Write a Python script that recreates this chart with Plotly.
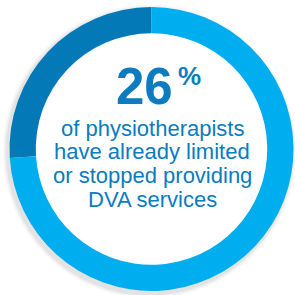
import plotly.graph_objects as go

labels = ["Limited or stopped", "Other"]
values = [26, 74]
colors = ["#0479b8", "#00aeef"]
headline = "26"
headline_unit = "%"
caption_lines = ["of physiotherapists", "have already limited", "or stopped providing", "DVA services"]

W = H = 295
cx, cy, r = 151.5, 149, 142
hole = 0.815

def px(x):
    return x / W

def py(y):
    return 1 - y / H

fig = go.Figure()
fig.add_trace(go.Pie(
    labels=labels, values=values, sort=False, direction="clockwise",
    rotation=-93.6, hole=hole, textinfo="none", hoverinfo="label+percent",
    marker=dict(colors=colors, line=dict(width=0)),
    domain=dict(x=[px(cx - r), min(1, px(cx + r))], y=[py(cy + r), py(cy - r)]),
    showlegend=False,
))

text_color = "#0b7cc0"
font = "Liberation Sans, Arial, sans-serif"
ann = [
    dict(text="<b>" + headline + "</b>", x=px(144), y=py(86), font=dict(size=51, color=text_color, family=font)),
    dict(text="<b>" + headline_unit + "</b>", x=px(190), y=py(76), font=dict(size=26, color=text_color, family=font)),
]
for i, line in enumerate(caption_lines):
    ann.append(dict(text=line, x=px(152), y=py(128 + 23.7 * i), font=dict(size=22, color=text_color, family=font)))
for a in ann:
    a.update(xref="paper", yref="paper", showarrow=False, xanchor="center", yanchor="middle")

shapes = []
for grow, alpha in [(5, 0.025), (3.5, 0.035), (2, 0.05)]:
    rr = r + grow
    ox, oy = cx - 2, cy + 2.5
    shapes.append(dict(type="circle", xref="paper", yref="paper", layer="below",
                       x0=px(ox - rr), x1=px(ox + rr), y0=py(oy + rr), y1=py(oy - rr),
                       fillcolor=f"rgba(0,0,0,{alpha})", line=dict(width=0)))
ri = r * hole + 3
shapes.append(dict(type="circle", xref="paper", yref="paper", layer="below",
                   x0=px(cx - ri), x1=px(cx + ri), y0=py(cy + ri), y1=py(cy - ri),
                   fillcolor="white", line=dict(width=0)))

fig.update_layout(
    width=W, height=H, margin=dict(l=0, r=0, t=0, b=0),
    paper_bgcolor="white", plot_bgcolor="white",
    annotations=ann, shapes=shapes,
)
fig.write_html("out.html", config={"displayModeBar": False},
               post_script="document.body.style.margin='0';document.body.style.overflow='hidden';")
